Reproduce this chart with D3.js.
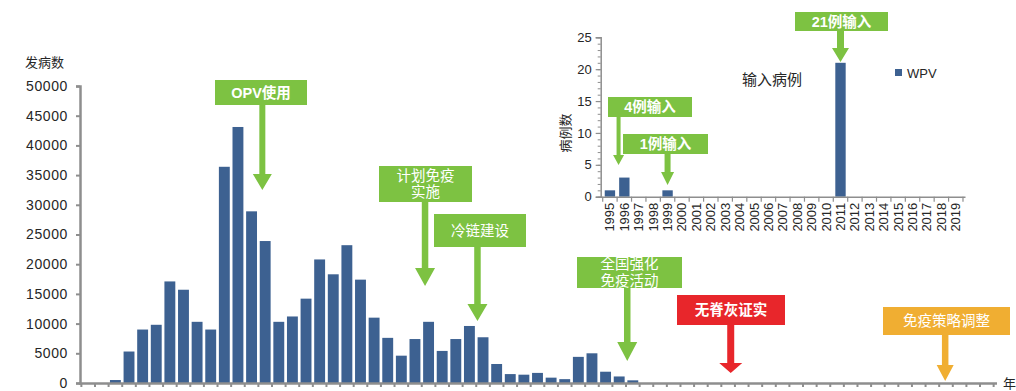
<!DOCTYPE html>
<html><head><meta charset="utf-8">
<script src="https://cdn.jsdelivr.net/npm/d3@7"></script>
<style>
html,body{margin:0;padding:0;background:#fff;}
svg{display:block;font-family:"Liberation Sans","Noto Sans CJK SC",sans-serif;}
</style></head>
<body>
<svg id="c" width="1016" height="391"></svg>
<script>
// ---- main chart data (polio cases per year, China) ----
const mainYears = d3.range(1953, 2020);
const mainCases = [0,0,500,5300,9000,9800,17100,15700,10300,9000,
  36400,43100,28900,23900,10300,11200,14200,20800,18300,23200,
  17400,11000,7600,4600,7400,10300,5400,7400,9600,7700,
  3200,1500,1400,1700,900,650,4400,5000,1900,1100,450,
  0,0,0,0,0,0,0,0,0,0,0,0,0,0,0,0,0,0,0,0,0,0,0,0,0,0];
const mainYTicks = [0,5000,10000,15000,20000,25000,30000,35000,40000,45000,50000];

// ---- inset data (imported WPV cases) ----
const insetYears = ["1995","1996","1997","1998","1999","2000","2001","2002","2003","2004",
  "2005","2006","2007","2008","2009","2010","2011","2012","2013","2014","2015","2016","2017","2018","2019"];
const insetWPV = [1,3,0,0,1,0,0,0,0,0,0,0,0,0,0,0,21,0,0,0,0,0,0,0,0];
const insetYTicks = [0,5,10,15,20,25];

// ---- annotations ----
const mainNotes = [
  {lines:["OPV使用"], year:1965.8, color:"#7dc242"},
  {lines:["计划免疫","实施"], year:1977.75, color:"#7dc242"},
  {lines:["冷链建设"], year:1981.6, color:"#7dc242"},
  {lines:["全国强化","免疫活动"], year:1992.6, color:"#7dc242"},
  {lines:["无脊灰证实"], year:2000.2, color:"#e8262b"},
  {lines:["免疫策略调整"], year:2015.95, color:"#f0ae32"}
];
const insetNotes = [
  {lines:["21例输入"], year:"2011", color:"#7dc242"},
  {lines:["4例输入"], year:"1995", color:"#7dc242"},
  {lines:["1例输入"], year:"1999", color:"#7dc242"}
];

const svg = d3.select("#c");
const BAR = "#3d6191";
const AX = "#8e8e8e";
const TXT = "#262626";

// ================= MAIN CHART =================
const x = d3.scaleBand().domain(mainYears).range([80, 995]).padding(0.2);
const xLin = d3.scaleLinear().domain([1953, 2020]).range([80 + 2.6 - x.step()*0.1, 80 + 2.6 - x.step()*0.1 + 67*x.step()]);
const y = d3.scaleLinear().domain([0, 50000]).range([383, 86]);

svg.append("g").selectAll("rect").data(mainYears).join("rect")
  .attr("x", d => x(d))
  .attr("width", x.bandwidth())
  .attr("y", (d,i) => y(mainCases[i]))
  .attr("height", (d,i) => y(0) - y(mainCases[i]))
  .attr("fill", BAR);

// y axis
const yAx = svg.append("g").attr("transform","translate(80,0)")
  .call(d3.axisLeft(y).tickValues(mainYTicks).tickSize(4).tickPadding(8).tickFormat(d3.format("d")));
yAx.select(".domain").attr("stroke", AX).attr("stroke-width", 2.5);
yAx.selectAll(".tick line").attr("stroke", AX).attr("stroke-width", 2);
yAx.selectAll("text").attr("font-size", 14).attr("fill", TXT).attr("letter-spacing", 0.6);

// x axis
const step = x.step();
const xTicks = mainYears.map(d => x(d) - step*0.1).concat([x(2019) + x.bandwidth() + step*0.1]);
svg.append("line").attr("x1", 79).attr("x2", 997).attr("y1", y(0)+0.5).attr("y2", y(0)+0.5)
  .attr("stroke", AX).attr("stroke-width", 2.5);
svg.append("g").selectAll("line").data(xTicks).join("line")
  .attr("x1", d => d).attr("x2", d => d).attr("y1", y(0)).attr("y2", y(0)+4)
  .attr("stroke", AX).attr("stroke-width", 2);

svg.append("text").attr("x", 25).attr("y", 67).attr("font-size", 13).attr("fill", TXT).text("发病数");
svg.append("text").attr("x", 1003).attr("y", 388).attr("font-size", 13).attr("fill", TXT).text("年");

// arrow helper
function arrow(g, cx, top, headTop, tip, sw, hw, color){
  g.append("path").attr("fill", color).attr("d",
    `M${cx-sw/2},${top}L${cx+sw/2},${top}L${cx+sw/2},${headTop}L${cx+hw/2},${headTop}L${cx},${tip}L${cx-hw/2},${headTop}L${cx-sw/2},${headTop}Z`);
}
function box(g, bx, by, bw, bh, color, lines, fs, bold, lh){
  g.append("rect").attr("x", bx).attr("y", by).attr("width", bw).attr("height", bh).attr("fill", color);
  const cy = by + bh/2;
  lines.forEach((t, i) => {
    g.append("text").attr("x", bx + bw/2).attr("y", cy + (i - (lines.length-1)/2)*lh)
      .attr("text-anchor","middle").attr("dominant-baseline","central")
      .attr("font-size", fs).attr("font-weight", bold ? "bold" : "normal")
      .attr("fill", "#fff").text(t);
  });
}

// main annotations layout
const mainLayout = [
  {bx:215, by:80, bw:92, bh:25, headTop:174, tip:190, sw:6, hw:19, bold:true},
  {bx:379, by:166, bw:93, bh:36, headTop:268, tip:286, sw:6.5, hw:20, bold:false},
  {bx:434, by:214, bw:92, bh:33, headTop:304, tip:321, sw:6.5, hw:20, bold:false},
  {bx:577, by:257, bw:105, bh:31, headTop:342, tip:361, sw:6.5, hw:20, bold:false},
  {bx:677, by:295, bw:108, bh:30, headTop:363, tip:373, sw:7, hw:23, bold:true},
  {bx:883, by:307, bw:127, bh:28, headTop:365, tip:381, sw:6.5, hw:17, bold:false}
];
const ann = svg.append("g");
mainNotes.forEach((n, i) => {
  const L = mainLayout[i];
  const cx = xLin(n.year + 0.5);
  arrow(ann, cx, L.by + L.bh - 1, L.headTop, L.tip, L.sw, L.hw, n.color);
  box(ann, L.bx, L.by, L.bw, L.bh, n.color, n.lines, 14.5, L.bold, 16.5);
});

// ================= INSET CHART =================
const xi = d3.scaleBand().domain(insetYears).range([600.7, 965]).padding(0.28);
const yi = d3.scaleLinear().domain([0, 25]).range([196.7, 37.3]);

svg.append("g").selectAll("rect").data(insetYears).join("rect")
  .attr("x", d => xi(d)).attr("width", xi.bandwidth())
  .attr("y", (d,i) => yi(insetWPV[i]))
  .attr("height", (d,i) => yi(0) - yi(insetWPV[i]))
  .attr("fill", BAR);

// inset y axis with minor ticks
const yiMinor = svg.append("g").attr("transform","translate(600.7,0)")
  .call(d3.axisLeft(yi).ticks(25).tickSize(3).tickFormat(""));
yiMinor.select(".domain").remove();
yiMinor.selectAll(".tick line").attr("stroke", AX).attr("stroke-width", 1);
const yiAx = svg.append("g").attr("transform","translate(600.7,0)")
  .call(d3.axisLeft(yi).tickValues(insetYTicks).tickSize(5).tickPadding(4));
yiAx.select(".domain").attr("stroke", AX).attr("stroke-width", 1.5);
yiAx.selectAll(".tick line").attr("stroke", AX).attr("stroke-width", 1.2);
yiAx.selectAll("text").attr("font-size", 13).attr("fill", TXT);

// inset x axis
const istep = xi.step();
const xiTicks = insetYears.map(d => xi(d) - istep*0.14).concat([xi("2019") + xi.bandwidth() + istep*0.14]);
svg.append("line").attr("x1", 600).attr("x2", 965.5).attr("y1", yi(0)+0.5).attr("y2", yi(0)+0.5)
  .attr("stroke", AX).attr("stroke-width", 1.5);
svg.append("g").selectAll("line").data(xiTicks).join("line")
  .attr("x1", d => d).attr("x2", d => d).attr("y1", yi(0)).attr("y2", yi(0)+5)
  .attr("stroke", AX).attr("stroke-width", 1.2);
svg.append("g").selectAll("text").data(insetYears).join("text")
  .attr("transform", d => `translate(${xi(d) + xi.bandwidth()/2 + 4.5},${yi(0)+6}) rotate(-90)`)
  .attr("text-anchor","end").attr("font-size", 13).attr("fill", TXT).text(d => d);

svg.append("text").attr("transform","translate(570,133) rotate(-90)")
  .attr("text-anchor","middle").attr("font-size", 13).attr("fill", TXT).text("病例数");
svg.append("text").attr("x", 742).attr("y", 85).attr("font-size", 15).attr("fill", TXT).text("输入病例");
svg.append("rect").attr("x", 895).attr("y", 69).attr("width", 7).attr("height", 7).attr("fill", BAR);
svg.append("text").attr("x", 907).attr("y", 78).attr("font-size", 13).attr("fill", TXT).text("WPV");

const insetLayout = [
  {bx:795, by:12, bw:93, bh:19, headTop:48, tip:62, sw:7, hw:17, dx:0},
  {bx:608, by:97, bw:84, bh:20, headTop:155, tip:165, sw:4, hw:11, dx:0.6},
  {bx:623, by:134, bw:85, bh:20, headTop:172, tip:185, sw:6, hw:13, dx:0}
];
const iann = svg.append("g");
insetNotes.forEach((n, i) => {
  const L = insetLayout[i];
  const cx = xi(n.year) + xi.bandwidth()/2 + L.dx*istep;
  arrow(iann, cx, L.by + L.bh - 1, L.headTop, L.tip, L.sw, L.hw, n.color);
  box(iann, L.bx, L.by, L.bw, L.bh, n.color, n.lines, 14.5, true, 16);
});
</script>
</body></html>
